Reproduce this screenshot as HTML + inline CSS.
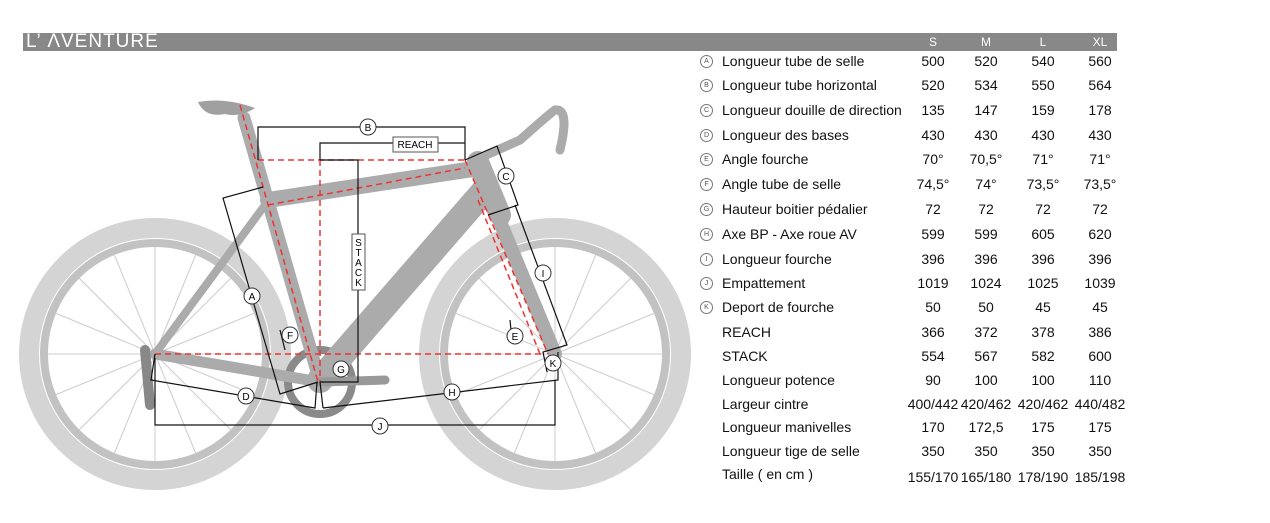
<!DOCTYPE html>
<html><head><meta charset="utf-8"><style>
body{margin:0;background:#fff;width:1270px;height:523px;overflow:hidden;font-family:"Liberation Sans",Arial,sans-serif;position:relative}
.bar{position:absolute;left:23px;top:33px;width:1094px;height:18px;background:#888}
.title{position:absolute;left:26px;top:31px;color:#fff;font-size:19px;letter-spacing:1px;line-height:22px}
.sz{position:absolute;top:35px;color:#fff;font-size:12px;width:40px;text-align:center}
.row{position:absolute;left:0;font-size:14px;color:#111;height:20px;line-height:20px}
.c{position:absolute;left:700px;top:4px;width:11px;height:11px;border:1px solid #777;border-radius:50%;font-size:7px;line-height:11px;text-align:center;color:#555}
.l{position:absolute;left:722px;white-space:nowrap}
.v{position:absolute;width:60px;text-align:center}
</style></head><body>
<div class="bar"></div><div class="title">L’ ΛVENTURE</div>
<div class="sz" style="left:913px">S</div><div class="sz" style="left:966px">M</div><div class="sz" style="left:1023px">L</div><div class="sz" style="left:1080px">XL</div>

<svg width="700" height="523" style="position:absolute;left:0;top:0">
<g fill="none">
<circle cx="155" cy="354" r="126" stroke="#d4d4d4" stroke-width="20"/>
<circle cx="155" cy="354" r="111" stroke="#c2c2c2" stroke-width="8"/>
<circle cx="555" cy="354" r="126" stroke="#d4d4d4" stroke-width="20"/>
<circle cx="555" cy="354" r="111" stroke="#c2c2c2" stroke-width="8"/>
<g stroke="#ccc" stroke-width="1">
<path d="M155 354L155 246M155 354L231 278M155 354L263 354M155 354L231 430M155 354L155 462M155 354L79 430M155 354L47 354M155 354L79 278M155 354L196 254M155 354L255 313M155 354L255 395M155 354L196 454M155 354L114 454M155 354L55 395M155 354L55 313M155 354L114 254"/>
<path d="M555 354L555 246M555 354L631 278M555 354L663 354M555 354L631 430M555 354L555 462M555 354L479 430M555 354L447 354M555 354L479 278M555 354L596 254M555 354L655 313M555 354L655 395M555 354L596 454M555 354L514 454M555 354L455 395M555 354L455 313M555 354L514 254"/>
</g>
<circle cx="320" cy="382" r="32" stroke="#8a8a8a" stroke-width="8"/>
<g stroke="#ababab" stroke-linecap="round">
<path d="M155 354L265 205" stroke-width="8"/>
<path d="M155 354L320 382" stroke-width="11"/>
<path d="M244 118L320 382" stroke-width="13"/>
<path d="M268 200L480 168" stroke-width="16"/>
<path d="M485 190L320 380" stroke-width="26"/>
<path d="M478 162L500 215" stroke-width="22"/>
<path d="M496 212L555 354" stroke-width="14"/>
<path d="M475 160L520 140Q548 115 555 110Q570 108 560 150" stroke-width="9"/>
<path d="M320 382L385 380" stroke="#999" stroke-width="9"/>
<path d="M145 350L150 405" stroke="#888" stroke-width="10"/>
</g>
<path d="M198 102Q225 97 255 108Q240 118 225 114Q205 118 198 102Z" fill="#a0a0a0"/>
</g>
<g fill="none" stroke="#e33" stroke-width="1.5" stroke-dasharray="6,4">
<path d="M258 160H465"/><path d="M268 205L465 168"/><path d="M320 160V382"/>
<path d="M155 354H545"/><path d="M240 105L318 382"/><path d="M465 160L548 354"/>
<path d="M478 200L540 354"/>
</g>
<g fill="none" stroke="#111" stroke-width="1.2">
<path d="M258 160V127H465V160"/>
<path d="M320 160V143H393M438 143H465"/>
<path d="M320 160H358V382H320"/>
<path d="M465 160L497 146L518 205L488 215"/>
<path d="M263 187L223 198L280 394L318 382"/>
<path d="M515 205L567 345L543 352L547 372"/>
<path d="M155 354L151 380L315 408L317 382"/>
<path d="M323 408L320 382M323 408L558 380V352"/>
<path d="M155 358V425H555V380"/>
<path d="M510 320L512 340M280 330L285 350"/>
</g>
<rect x="393" y="137" width="45" height="15" fill="#fff" stroke="#555"/>
<text x="415" y="148" font-size="10" text-anchor="middle" font-family="Liberation Sans">REACH</text>
<rect x="352" y="234" width="13" height="56" fill="#fff" stroke="#555"/>
<text x="358.5" y="246" font-size="10" text-anchor="middle" font-family="Liberation Sans"><tspan x="358.5">S</tspan><tspan x="358.5" dy="10">T</tspan><tspan x="358.5" dy="10">A</tspan><tspan x="358.5" dy="10">C</tspan><tspan x="358.5" dy="10">K</tspan></text>
<g font-size="10" text-anchor="middle" font-family="Liberation Sans">
<g fill="#fff" stroke="#333">
<circle cx="368" cy="127" r="8"/><circle cx="506" cy="176" r="8"/><circle cx="252" cy="296" r="8"/>
<circle cx="290" cy="335" r="8"/><circle cx="341" cy="369" r="8"/><circle cx="246" cy="396" r="8"/>
<circle cx="452" cy="392" r="8"/><circle cx="380" cy="426" r="8"/><circle cx="543" cy="273" r="8"/>
<circle cx="515" cy="336" r="8"/><circle cx="553" cy="363" r="8"/>
</g>
<text x="368" y="131">B</text><text x="506" y="180">C</text><text x="252" y="300">A</text>
<text x="290" y="339">F</text><text x="341" y="373">G</text><text x="246" y="400">D</text>
<text x="452" y="396">H</text><text x="380" y="430">J</text><text x="543" y="277">I</text>
<text x="515" y="340">E</text><text x="553" y="367">K</text>
</g>
</svg>

<div class="row" style="top:51px"><span class="c">A</span><span class="l">Longueur tube de selle</span><span class="v" style="left:903px">500</span><span class="v" style="left:956px">520</span><span class="v" style="left:1013px">540</span><span class="v" style="left:1070px">560</span></div>
<div class="row" style="top:75px"><span class="c">B</span><span class="l">Longueur tube horizontal</span><span class="v" style="left:903px">520</span><span class="v" style="left:956px">534</span><span class="v" style="left:1013px">550</span><span class="v" style="left:1070px">564</span></div>
<div class="row" style="top:100px"><span class="c">C</span><span class="l">Longueur douille de direction</span><span class="v" style="left:903px">135</span><span class="v" style="left:956px">147</span><span class="v" style="left:1013px">159</span><span class="v" style="left:1070px">178</span></div>
<div class="row" style="top:125px"><span class="c">D</span><span class="l">Longueur des bases</span><span class="v" style="left:903px">430</span><span class="v" style="left:956px">430</span><span class="v" style="left:1013px">430</span><span class="v" style="left:1070px">430</span></div>
<div class="row" style="top:149px"><span class="c">E</span><span class="l">Angle fourche</span><span class="v" style="left:903px">70°</span><span class="v" style="left:956px">70,5°</span><span class="v" style="left:1013px">71°</span><span class="v" style="left:1070px">71°</span></div>
<div class="row" style="top:174px"><span class="c">F</span><span class="l">Angle tube de selle</span><span class="v" style="left:903px">74,5°</span><span class="v" style="left:956px">74°</span><span class="v" style="left:1013px">73,5°</span><span class="v" style="left:1070px">73,5°</span></div>
<div class="row" style="top:199px"><span class="c">G</span><span class="l">Hauteur boitier pédalier</span><span class="v" style="left:903px">72</span><span class="v" style="left:956px">72</span><span class="v" style="left:1013px">72</span><span class="v" style="left:1070px">72</span></div>
<div class="row" style="top:224px"><span class="c">H</span><span class="l">Axe BP - Axe roue AV</span><span class="v" style="left:903px">599</span><span class="v" style="left:956px">599</span><span class="v" style="left:1013px">605</span><span class="v" style="left:1070px">620</span></div>
<div class="row" style="top:249px"><span class="c">I</span><span class="l">Longueur fourche</span><span class="v" style="left:903px">396</span><span class="v" style="left:956px">396</span><span class="v" style="left:1013px">396</span><span class="v" style="left:1070px">396</span></div>
<div class="row" style="top:273px"><span class="c">J</span><span class="l">Empattement</span><span class="v" style="left:903px">1019</span><span class="v" style="left:956px">1024</span><span class="v" style="left:1013px">1025</span><span class="v" style="left:1070px">1039</span></div>
<div class="row" style="top:297px"><span class="c">K</span><span class="l">Deport de fourche</span><span class="v" style="left:903px">50</span><span class="v" style="left:956px">50</span><span class="v" style="left:1013px">45</span><span class="v" style="left:1070px">45</span></div>
<div class="row" style="top:322px"><span class="l">REACH</span><span class="v" style="left:903px">366</span><span class="v" style="left:956px">372</span><span class="v" style="left:1013px">378</span><span class="v" style="left:1070px">386</span></div>
<div class="row" style="top:346px"><span class="l">STACK</span><span class="v" style="left:903px">554</span><span class="v" style="left:956px">567</span><span class="v" style="left:1013px">582</span><span class="v" style="left:1070px">600</span></div>
<div class="row" style="top:370px"><span class="l">Longueur potence</span><span class="v" style="left:903px">90</span><span class="v" style="left:956px">100</span><span class="v" style="left:1013px">100</span><span class="v" style="left:1070px">110</span></div>
<div class="row" style="top:394px"><span class="l">Largeur cintre</span><span class="v" style="left:903px">400/442</span><span class="v" style="left:956px">420/462</span><span class="v" style="left:1013px">420/462</span><span class="v" style="left:1070px">440/482</span></div>
<div class="row" style="top:417px"><span class="l">Longueur manivelles</span><span class="v" style="left:903px">170</span><span class="v" style="left:956px">172,5</span><span class="v" style="left:1013px">175</span><span class="v" style="left:1070px">175</span></div>
<div class="row" style="top:441px"><span class="l">Longueur tige de selle</span><span class="v" style="left:903px">350</span><span class="v" style="left:956px">350</span><span class="v" style="left:1013px">350</span><span class="v" style="left:1070px">350</span></div>
<div class="row" style="top:464px"><span class="l">Taille ( en cm )</span><span class="v" style="left:903px;top:3px">155/170</span><span class="v" style="left:956px;top:3px">165/180</span><span class="v" style="left:1013px;top:3px">178/190</span><span class="v" style="left:1070px;top:3px">185/198</span></div>
</body></html>
